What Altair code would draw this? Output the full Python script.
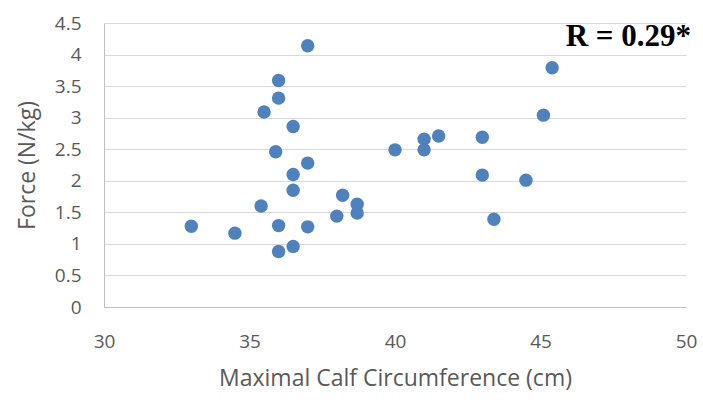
import altair as alt
import pandas as pd

# Calf circumference (cm) vs. normalised force (N/kg)
circumference = [
    37.0, 36.0, 36.0, 35.5, 36.5, 35.9, 37.0, 36.5, 36.5, 38.2,
    38.7, 38.7, 35.4, 38.0, 33.0, 34.5, 36.0, 37.0, 36.5, 36.0,
    40.0, 41.0, 41.0, 41.5, 43.0, 43.0, 44.5, 43.4, 45.1, 45.4,
]
force = [
    4.14, 3.59, 3.31, 3.09, 2.86, 2.46, 2.28, 2.10, 1.85, 1.77,
    1.63, 1.49, 1.60, 1.44, 1.28, 1.17, 1.29, 1.27, 0.96, 0.88,
    2.49, 2.66, 2.49, 2.71, 2.69, 2.09, 2.01, 1.39, 3.04, 3.79,
]
x_ticks = [30, 35, 40, 45, 50]
y_ticks = [0, 0.5, 1, 1.5, 2, 2.5, 3, 3.5, 4, 4.5]
annotation = "R = 0.29*"

df = pd.DataFrame({"circ": circumference, "force": force})

font = "Open Sans"
grey_text = "#595959"

points = alt.Chart(df).mark_circle(size=180, color="#4f81bd", opacity=1).encode(
    x=alt.X(
        "circ:Q",
        scale=alt.Scale(domain=[30, 50], nice=False, zero=False),
        axis=alt.Axis(
            values=x_ticks,
            title="Maximal Calf Circumference (cm)",
            grid=False,
            ticks=False,
            labelFlush=False,
            domainColor="#bfbfbf",
            labelPadding=25,
            titlePadding=16,
        ),
    ),
    y=alt.Y(
        "force:Q",
        scale=alt.Scale(domain=[0, 4.5], nice=False),
        axis=alt.Axis(
            values=y_ticks,
            title="Force (N/kg)",
            grid=True,
            gridColor="#d9d9d9",
            gridWidth=1.2,
            ticks=False,
            domainColor="#bfbfbf",
            labelPadding=23,
            titlePadding=15,
            labelExpr="datum.value == 0 ? '0' : format(datum.value, '.1~f')",
        ),
    ),
)

label = alt.Chart(pd.DataFrame({"t": [annotation]})).mark_text(
    font="Liberation Serif",
    fontWeight="bold",
    fontSize=31,
    align="right",
    baseline="alphabetic",
    color="#000000",
).encode(
    text="t:N",
    x=alt.value(587),
    y=alt.value(23),
)

chart = (
    alt.layer(points, label)
    .properties(
        width=582,
        height=284,
        autosize=alt.AutoSizeParams(type="none"),
        padding={"left": 104, "top": 23, "right": 17, "bottom": 95},
        background="white",
    )
    .configure_view(stroke=None)
    .configure_axis(
        labelFont=font,
        labelFontSize=19,
        labelColor=grey_text,
        titleFont=font,
        titleFontSize=23,
        titleColor=grey_text,
        titleFontWeight="normal",
    )
)

chart.save("out.html", embed_options={"renderer": "svg", "actions": False})
